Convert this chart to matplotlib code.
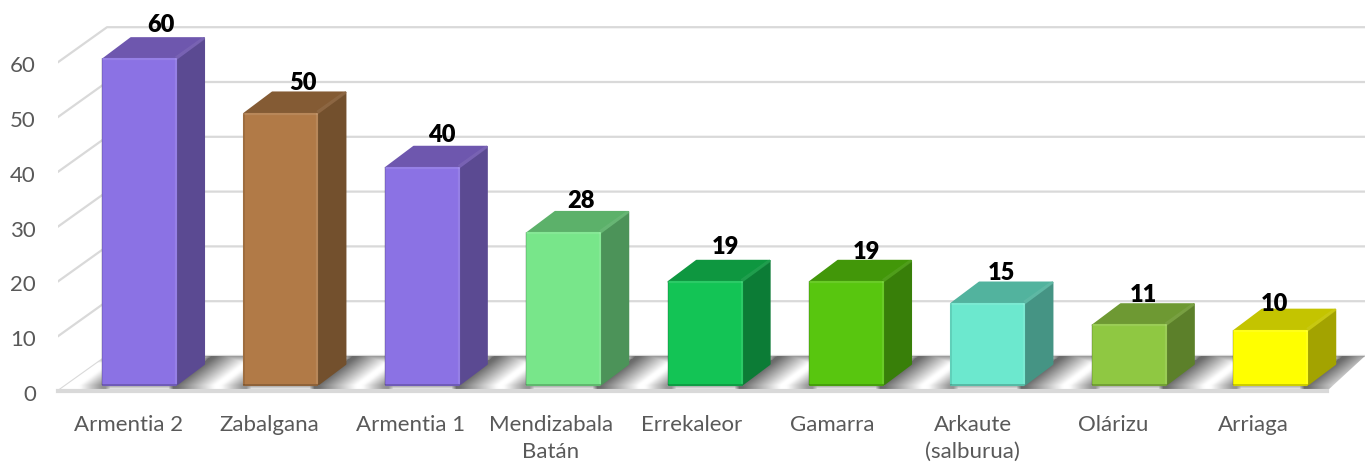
import numpy as np
import matplotlib
matplotlib.use("Agg")
import matplotlib.pyplot as plt
from matplotlib.patches import Polygon
from matplotlib.transforms import ScaledTranslation

plt.rcParams['font.family'] = ['Lato', 'DejaVu Sans']

categories = ["Armentia 2", "Zabalgana", "Armentia 1", "Mendizabala\nBatán", "Errekaleor",
              "Gamarra", "Arkaute\n(salburua)", "Olárizu", "Arriaga"]
values = [60, 50, 40, 28, 19, 19, 15, 11, 10]
y_ticks = [0, 10, 20, 30, 40, 50, 60]

front_colors = ["#8B72E4", "#B17A47", "#8B72E4", "#78E68A", "#13C455", "#58C60F", "#6CE8CE", "#8FC842", "#FFFF00"]
side_colors = ["#5B4A92", "#73502D", "#5B4A92", "#4C9359", "#0C7C36", "#387F09", "#459484", "#5C802A", "#A3A300"]
top_colors = ["#6E57AE", "#845B34", "#6E57AE", "#5CB16A", "#0E9740", "#429709", "#52B39E", "#6E9933", "#C4C400"]

# nudges of the data labels from the back of the bar top, in pixels
label_dx = [-6.5, -5.5, -9, -11, -7.5, -8, -14, -14, -24.5]
label_dy = [13, 9, 12, 11, 14, 9, 10, 9, 6]

W, H = 1365, 463
fig = plt.figure(figsize=(W / 100, H / 100), dpi=100)

# wall axes: y ticks and category ticks, 0 sits on the front floor edge
left, right, floor_y = 58, 1365, 391
wall = fig.add_axes([left / W, (H - floor_y) / H, (right - left) / W, floor_y / H])
wall.set_xlim((left - 129) / 140.6, (right - 129) / 140.6)
wall.set_ylim(0, floor_y / 5.48)
wall.set_facecolor("white")
for s in wall.spines.values():
    s.set_visible(False)

x0, x1 = wall.get_xlim()
xf = (1327 - 129) / 140.6
wx = 49 / 140.6
wy = 35 / 5.48
grid_c = "#D9D9D9"
for v in y_ticks:
    wall.plot([x0, x0 + wx, x1], [v, v + wy, v + wy], color=grid_c, lw=1.6, zorder=1)
wall.plot([x0, xf], [0, 0], color=grid_c, lw=3, clip_on=False, zorder=2.5)

wall.set_xticks(range(len(categories)))
wall.set_xticklabels(categories, fontsize=16, color="#595959", linespacing=1.45)
wall.set_yticks(y_ticks)
wall.set_yticklabels([str(v) for v in y_ticks], fontsize=16, color="#595959")
wall.tick_params(axis="both", length=0)
wall.tick_params(axis="x", pad=17)
wall.tick_params(axis="y", pad=16)
for t in wall.get_yticklabels():
    t.set_transform(t.get_transform() + ScaledTranslation(0, -2 / 100, fig.dpi_scale_trans))

# bar axes: 0 sits on the front foot of the bars
bar_y = 385
ax = fig.add_axes([0, (H - bar_y) / H, 1, bar_y / H], facecolor="none")
ax.set_xlim(-139.5 / 141.4, (W - 139.5) / 141.4)
ax.set_ylim(0, bar_y / 5.43)
ax.axis("off")
bw = 73 / 141.4
dx = 28 / 141.4
dy = 21 / 5.43

# soft shadows on the floor, worked out per pixel row and sheared like the bars
px = np.arange(left, right) + 0.5
py = np.arange(356, 391) + 0.5
gx, gy = np.meshgrid(px, py)
dark = np.clip((363 - gy) / 7, 0, 1) * 0.42
for i in range(len(values)):
    mid = 139.5 + 141.4 * i
    shift = np.clip(385 - gy, 0, None) * 28 / 21
    d_r = gx - (mid + 37.5 + shift)
    d_l = (mid - 37.5 + shift) - gx
    dark = np.maximum(dark, np.where(d_r > -6, np.clip(1 - d_r / 38, 0, 1) * 0.58, 0))
    dark = np.maximum(dark, np.where(d_l > -6, np.clip(1 - d_l / 22, 0, 1) * 0.42, 0))
    under = (gx > mid - 40) & (gx < mid + 42)
    dark = np.maximum(dark, np.where(under, np.clip((390 - gy) / 5, 0, 1) * 0.4 * (gy > 385), 0))
kx = np.ones(5) / 5
dark = np.apply_along_axis(lambda r: np.convolve(np.pad(r, 2, mode="edge"), kx, mode="valid"), 1, dark)
img = wall.imshow(1 - dark, extent=(x0, x1, 0, wy), cmap="gray", vmin=0, vmax=1, aspect="auto", zorder=2)
floor = Polygon([[x0, 0], [x0 + wx, wy], [x1, wy], [xf, 0]], closed=True, facecolor="none", edgecolor="none")
wall.add_patch(floor)
img.set_clip_path(floor)
wall.set_xlim(x0, x1)
wall.set_ylim(0, floor_y / 5.48)

for i, v in enumerate(values):
    xl = i - bw / 2
    xr = i + bw / 2
    rects = ax.bar(i, v, width=bw, color=front_colors[i], edgecolor=front_colors[i], lw=1.5, zorder=3)
    rects[0].set_joinstyle("round")
    rects[0].set_clip_on(False)
    ax.add_patch(Polygon([[xr, 0], [xr + dx, dy], [xr + dx, v + dy], [xr, v]], closed=True,
                         facecolor=side_colors[i], edgecolor=side_colors[i], lw=1.5, joinstyle="round", zorder=2))
    ax.add_patch(Polygon([[xl, v], [xl + dx, v + dy], [xr + dx, v + dy], [xr, v]], closed=True,
                         facecolor=top_colors[i], edgecolor=top_colors[i], lw=1.5, joinstyle="round", zorder=2))
    # bevel highlights along the edges
    ax.plot([xr, xr], [0.3, v], color="white", alpha=0.1, lw=1.6, zorder=3.2, solid_capstyle="round")
    ax.plot([xl, xr], [v, v], color="white", alpha=0.1, lw=1.6, zorder=3.2, solid_capstyle="round")
    ax.plot([xr + 0.01, xr + dx], [v + 0.4, v + dy], color="white", alpha=0.07, lw=2.4, zorder=2.6)
    ax.plot([xl - 0.005, xl - 0.005], [0, v], color="black", alpha=0.12, lw=1.2, zorder=3.2)
    ax.plot([xl, xr], [0, 0], color="black", alpha=0.2, lw=1.4, zorder=3.2, clip_on=False)
    ax.annotate(str(v), (i + dx, v + dy), xytext=(label_dx[i] * 0.72, label_dy[i] * 0.72), textcoords="offset points",
                ha="center", va="center", fontsize=17, fontweight="heavy", color="black", zorder=4)

ax.set_xlim(-139.5 / 141.4, (W - 139.5) / 141.4)
ax.set_ylim(0, bar_y / 5.43)

fig.savefig("out.png", dpi=100)
